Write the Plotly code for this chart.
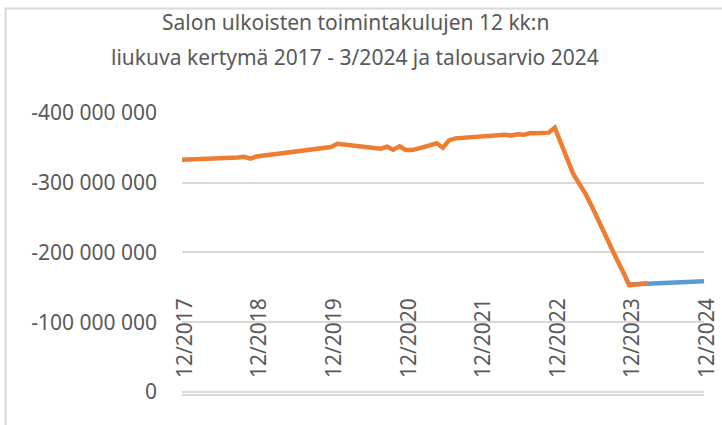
import pandas as pd
import plotly.graph_objects as go

# Rolling 12-month external operating costs (EUR millions), monthly 12/2017 - 3/2024
orange_millions = [
    -333.0, -333.2, -333.5, -333.8, -334.2, -334.5, -334.8, -335.2, -335.6, -336.2,
    -337.2, -334.6, -337.6, -338.8, -339.8, -340.9, -342.0, -343.2, -344.4, -345.6,
    -346.8, -348.0, -349.5, -350.3, -351.2, -355.8, -354.6, -353.6, -352.4, -351.0,
    -350.4, -349.9, -348.8, -351.6, -347.4, -352.3, -347.0, -346.8, -348.6, -351.2,
    -353.8, -356.6, -350.2, -360.8, -363.6, -364.4, -364.9, -365.4, -366.0, -366.4,
    -367.0, -368.6, -368.9, -367.6, -369.6, -368.8, -370.8, -371.0, -371.2, -371.8,
    -379.0, -356.0, -335.0, -313.0, -298.0, -284.0, -266.0, -247.0, -226.0, -207.0,
    -190.0, -172.0, -153.0, -154.0, -155.0, -156.0,
]
orange_start = "2017-12-01"

# Budget 2024 (EUR millions), monthly 12/2023 - 12/2024
blue_millions = [
    -154.0, -154.4, -154.8, -155.2, -155.6, -156.0, -156.4,
    -156.8, -157.2, -157.6, -158.0, -158.3, -158.6,
]
blue_start = "2023-12-01"

x_tick_dates = ["2017-12-01", "2018-12-01", "2019-12-01", "2020-12-01",
                "2021-12-01", "2022-12-01", "2023-12-01", "2024-12-01"]
x_tick_labels = ["12/2017", "12/2018", "12/2019", "12/2020",
                 "12/2021", "12/2022", "12/2023", "12/2024"]
y_tick_vals = [0, -100000000, -200000000, -300000000, -400000000]
y_tick_labels = ["0", "-100 000 000", "-200 000 000", "-300 000 000", "-400 000 000"]

title_lines = ["Salon ulkoisten toimintakulujen 12 kk:n",
               "liukuva kertymä 2017 - 3/2024 ja talousarvio 2024"]

orange_x = pd.date_range(orange_start, periods=len(orange_millions), freq="MS")
blue_x = pd.date_range(blue_start, periods=len(blue_millions), freq="MS")
orange_y = [v * 1e6 for v in orange_millions]
blue_y = [v * 1e6 for v in blue_millions]

FONT = "Noto Sans"
GRAY = "#595959"
GRID = "#D9D9D9"
W, H = 722, 425
ML, MR, MT, MB = 182, 18, 113, 31
PW, PH = W - ML - MR, H - MT - MB

fig = go.Figure()
fig.add_trace(go.Scatter(x=blue_x, y=blue_y, mode="lines",
                         line=dict(color="#5B9BD5", width=4.5), showlegend=False))
fig.add_trace(go.Scatter(x=orange_x, y=orange_y, mode="lines",
                         line=dict(color="#ED7D31", width=4.5), showlegend=False))

fig.update_layout(
    width=W, height=H,
    margin=dict(l=ML, r=MR, t=MT, b=MB, pad=0, autoexpand=False),
    paper_bgcolor="white", plot_bgcolor="rgba(0,0,0,0)",
    font=dict(family=FONT, color=GRAY, size=21),
    showlegend=False,
)
fig.update_xaxes(
    range=[x_tick_dates[0], x_tick_dates[-1]],
    tickmode="array", tickvals=x_tick_dates, ticktext=x_tick_labels,
    tickangle=-90, ticklabelposition="inside", ticklabelstandoff=10,
    ticklabelshift=3, ticklabeloverflow="allow", automargin=False,
    showgrid=False, zeroline=False, ticks="",
    showline=True, linecolor=GRID, linewidth=1.5,
    tickfont=dict(family=FONT, size=21, color=GRAY),
)
fig.update_yaxes(
    range=[3000000, -400000000], automargin=False,
    tickmode="array", tickvals=y_tick_vals, ticktext=y_tick_labels,
    showgrid=True, gridcolor=GRID, gridwidth=1.5,
    zeroline=False, showline=False, ticks="", ticklabelstandoff=24,
    tickfont=dict(family=FONT, size=21, color=GRAY),
)

# baseline gridline at 0
fig.add_shape(type="line", xref="paper", yref="y", x0=0, x1=1,
              y0=y_tick_vals[0], y1=y_tick_vals[0],
              line=dict(color=GRID, width=2), layer="above")

for i, (txt, shift) in enumerate(zip(title_lines, [91, 56])):
    fig.add_annotation(text=txt, xref="paper", yref="paper",
                       x=(355 - ML) / PW, y=1, yshift=shift,
                       xanchor="center", yanchor="middle", showarrow=False,
                       font=dict(family=FONT, size=21, color=GRAY))

# chart border (Excel chart area outline)
fig.add_shape(type="rect", xref="paper", yref="paper",
              x0=(5.5 - ML) / PW, x1=(W + 10 - ML) / PW,
              y0=-(MB + 10) / PH, y1=1 + (MT - 8.5) / PH,
              line=dict(color=GRID, width=2), layer="below")

fig.write_html("out.html", config={"displayModeBar": False},
               post_script="document.body.style.margin='0';document.body.style.overflow='hidden';")
